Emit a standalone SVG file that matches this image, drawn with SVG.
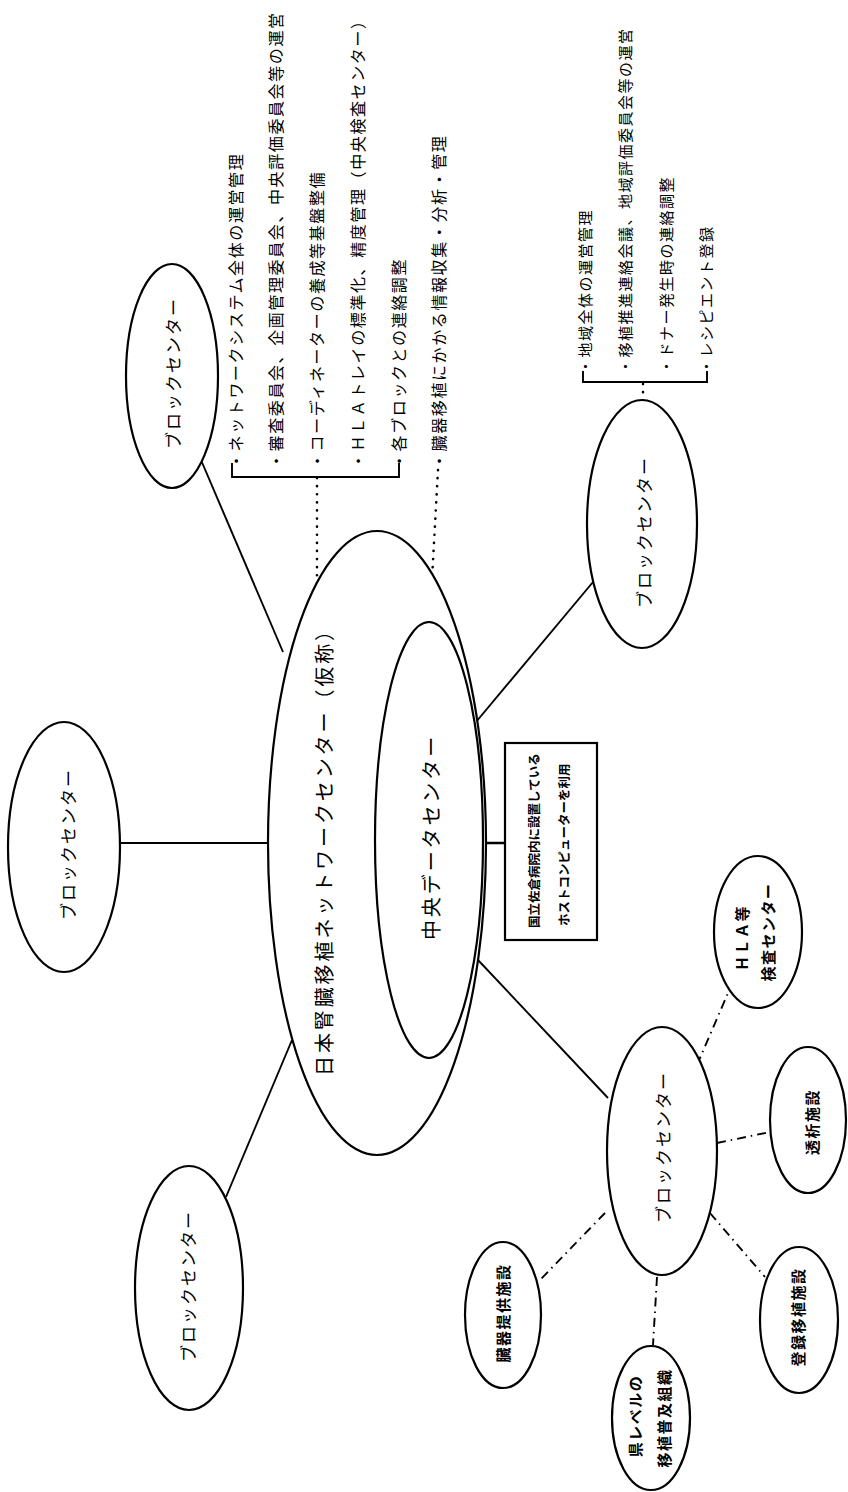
<svg xmlns="http://www.w3.org/2000/svg" width="848" height="1492" viewBox="0 0 848 1492">
<style>
.bg{fill:#fff}
.n{fill:#fff;stroke:#000;stroke-width:2.2}
.c{fill:none;stroke:#000;stroke-width:1.9}
.dot{fill:none;stroke:#000;stroke-width:2.6;stroke-dasharray:0.1 8;stroke-linecap:round}
.dd{fill:none;stroke:#000;stroke-width:1.9;stroke-dasharray:9 5 1.5 5}
.t{font-family:"Noto Sans CJK JP","Noto Sans CJK SC",sans-serif;fill:#000;dominant-baseline:central}
.lbl{font-size:17px;letter-spacing:2px;text-anchor:middle}
.title{font-size:20px;letter-spacing:2.9px;text-anchor:middle}
.li{font-size:15px;letter-spacing:1.5px;text-anchor:start}
.li2{font-size:16px;letter-spacing:1.6px;text-anchor:start}
.sm{font-size:15px;font-weight:bold;letter-spacing:1.5px;text-anchor:middle}
.bx{font-size:12.5px;font-weight:bold;text-anchor:start}
</style>
<rect class="bg" x="0" y="0" width="848" height="1492"/>
<g id="connectors">
<line class="c" x1="201" y1="460" x2="283" y2="652"/>
<line class="c" x1="120" y1="843" x2="268" y2="843"/>
<line class="c" x1="226" y1="1197" x2="292" y2="1040"/>
<line class="c" x1="476" y1="722" x2="593" y2="582"/>
<line class="c" x1="478" y1="960" x2="608" y2="1098"/>
<line class="c" x1="453" y1="843" x2="522" y2="843" style="stroke-width:2.6"/>
<path class="dot" d="M317,478 V618"/>
<path class="dot" d="M438,470 L428,652"/>
<path class="dot" d="M643,384 V460"/>
<line class="dd" x1="697" y1="1065" x2="728" y2="993"/>
<line class="dd" x1="717" y1="1143" x2="770" y2="1132"/>
<line class="dd" x1="710" y1="1213" x2="765" y2="1277"/>
<line class="dd" x1="657" y1="1277" x2="653" y2="1345"/>
<line class="dd" x1="605" y1="1213" x2="540" y2="1280"/>
<path class="c" d="M232,463 V477 H399 V463"/>
<path class="c" d="M583,371 V382 H707 V371"/>
</g>
<g id="network-center">
<ellipse class="n" cx="377" cy="843" rx="109" ry="312"/>
<text class="t title" transform="translate(323,847) rotate(-90)">日本腎臓移植ネットワークセンター（仮称）</text>
</g>
<g id="data-center">
<ellipse class="n" cx="429" cy="840" rx="54" ry="218"/>
<text class="t title" transform="translate(430,837) rotate(-90)">中央データセンター</text>
</g>
<g id="host-box">
<rect x="505" y="743" width="92" height="197" fill="#fff" stroke="#000" stroke-width="2.2"/>
<text class="t bx" transform="translate(533,928) rotate(-90)">国立佐倉病院内に設置している</text>
<text class="t bx" transform="translate(563,926) rotate(-90)">ホストコンピューターを利用</text>
</g>
<g id="block-top">
<ellipse class="n" cx="172" cy="376" rx="46" ry="112"/>
<text class="t lbl" transform="translate(172,373) rotate(-90)">ブロックセンター</text>
</g>
<g id="block-left">
<ellipse class="n" cx="64" cy="847" rx="56" ry="125"/>
<text class="t lbl" transform="translate(67,844) rotate(-90)">ブロックセンター</text>
</g>
<g id="block-bottom-left">
<ellipse class="n" cx="189" cy="1288" rx="54" ry="122"/>
<text class="t lbl" transform="translate(187,1286) rotate(-90)">ブロックセンター</text>
</g>
<g id="block-right">
<ellipse class="n" cx="642" cy="524" rx="55" ry="124"/>
<text class="t lbl" transform="translate(643,532) rotate(-90)">ブロックセンター</text>
</g>
<g id="block-bottom">
<ellipse class="n" cx="662" cy="1151" rx="55" ry="124"/>
<text class="t lbl" transform="translate(662,1147) rotate(-90)">ブロックセンター</text>
</g>
<g id="hla">
<ellipse class="n" cx="758" cy="932" rx="44" ry="76"/>
<text class="t sm" transform="translate(741,938) rotate(-90)">ＨＬＡ等</text>
<text class="t sm" transform="translate(767,932) rotate(-90)">検査センター</text>
</g>
<g id="dialysis">
<ellipse class="n" cx="808" cy="1120" rx="38" ry="73"/>
<text class="t sm" transform="translate(811,1122) rotate(-90)">透析施設</text>
</g>
<g id="registered">
<ellipse class="n" cx="799" cy="1320" rx="39" ry="73"/>
<text class="t sm" transform="translate(797,1317) rotate(-90)">登録移植施設</text>
</g>
<g id="prefecture">
<ellipse class="n" cx="651" cy="1418" rx="39" ry="72"/>
<text class="t sm" transform="translate(634,1416) rotate(-90)">県レベルの</text>
<text class="t sm" transform="translate(663,1418) rotate(-90)">移植普及組織</text>
</g>
<g id="donor">
<ellipse class="n" cx="503" cy="1315" rx="38" ry="73"/>
<text class="t sm" transform="translate(502,1313) rotate(-90)">臓器提供施設</text>
</g>
<g id="center-duties">
<text class="t li2" transform="translate(235,469) rotate(-90)">・ネットワークシステム全体の運営管理</text>
<text class="t li2" transform="translate(275,469) rotate(-90)">・審査委員会、企画管理委員会、中央評価委員会等の運営</text>
<text class="t li2" transform="translate(316,469) rotate(-90)">・コーディネーターの養成等基盤整備</text>
<text class="t li2" transform="translate(357,469) rotate(-90)">・ＨＬＡトレイの標準化、精度管理（中央検査センター）</text>
<text class="t li2" transform="translate(398,469) rotate(-90)">・各ブロックとの連絡調整</text>
<text class="t li2" transform="translate(438,469) rotate(-90)">・臓器移植にかかる情報収集・分析・管理</text>
</g>
<g id="block-duties">
<text class="t li" transform="translate(584,374) rotate(-90)">・地域全体の運営管理</text>
<text class="t li" transform="translate(624,374) rotate(-90)">・移植推進連絡会議、地域評価委員会等の運営</text>
<text class="t li" transform="translate(665,374) rotate(-90)">・ドナー発生時の連絡調整</text>
<text class="t li" transform="translate(705,374) rotate(-90)">・レシピエント登録</text>
</g>
</svg>
